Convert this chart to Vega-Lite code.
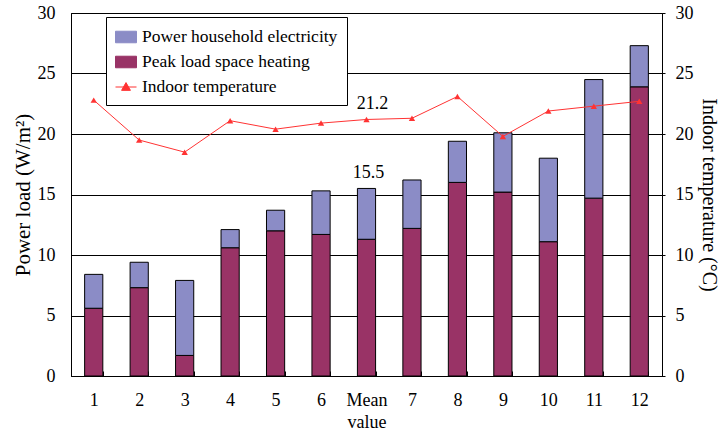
{
  "$schema": "https://vega.github.io/schema/vega-lite/v6.json",
  "width": 591,
  "height": 363,
  "autosize": "none",
  "padding": {"left": 71, "top": 13, "right": 65, "bottom": 59},
  "background": "white",
  "config": {
    "font": "Liberation Serif",
    "view": {"stroke": "black", "strokeWidth": 1},
    "axis": {
      "labelFont": "Liberation Serif",
      "titleFont": "Liberation Serif",
      "labelFontSize": 18,
      "titleFontSize": 20,
      "titleFontWeight": "normal",
      "labelColor": "black",
      "titleColor": "black",
      "domainColor": "black",
      "tickColor": "black",
      "gridColor": "black",
      "gridOpacity": 1
    },
    "legend": {
      "labelFont": "Liberation Serif",
      "labelFontSize": 17.5,
      "labelColor": "black",
      "labelLimit": 400
    }
  },
  "datasets": {
    "bars": [
      {"cat": "1", "series": "Peak load space heating", "value": 5.6},
      {"cat": "1", "series": "Power household electricity", "value": 2.8},
      {"cat": "2", "series": "Peak load space heating", "value": 7.3},
      {"cat": "2", "series": "Power household electricity", "value": 2.1},
      {"cat": "3", "series": "Peak load space heating", "value": 1.7},
      {"cat": "3", "series": "Power household electricity", "value": 6.2},
      {"cat": "4", "series": "Peak load space heating", "value": 10.6},
      {"cat": "4", "series": "Power household electricity", "value": 1.5},
      {"cat": "5", "series": "Peak load space heating", "value": 12.0},
      {"cat": "5", "series": "Power household electricity", "value": 1.7},
      {"cat": "6", "series": "Peak load space heating", "value": 11.7},
      {"cat": "6", "series": "Power household electricity", "value": 3.6},
      {"cat": "Mean value", "series": "Peak load space heating", "value": 11.3},
      {"cat": "Mean value", "series": "Power household electricity", "value": 4.2},
      {"cat": "7", "series": "Peak load space heating", "value": 12.2},
      {"cat": "7", "series": "Power household electricity", "value": 4.0},
      {"cat": "8", "series": "Peak load space heating", "value": 16.0},
      {"cat": "8", "series": "Power household electricity", "value": 3.4},
      {"cat": "9", "series": "Peak load space heating", "value": 15.2},
      {"cat": "9", "series": "Power household electricity", "value": 4.9},
      {"cat": "10", "series": "Peak load space heating", "value": 11.1},
      {"cat": "10", "series": "Power household electricity", "value": 6.9},
      {"cat": "11", "series": "Peak load space heating", "value": 14.7},
      {"cat": "11", "series": "Power household electricity", "value": 9.8},
      {"cat": "12", "series": "Peak load space heating", "value": 23.9},
      {"cat": "12", "series": "Power household electricity", "value": 3.4}
    ],
    "temp": [
      {"cat": "1", "temp": 22.8},
      {"cat": "2", "temp": 19.5},
      {"cat": "3", "temp": 18.5},
      {"cat": "4", "temp": 21.1},
      {"cat": "5", "temp": 20.4},
      {"cat": "6", "temp": 20.9},
      {"cat": "Mean value", "temp": 21.2},
      {"cat": "7", "temp": 21.3},
      {"cat": "8", "temp": 23.1},
      {"cat": "9", "temp": 19.8},
      {"cat": "10", "temp": 21.9},
      {"cat": "11", "temp": 22.3},
      {"cat": "12", "temp": 22.7}
    ]
  },
  "encoding": {
    "x": {
      "field": "cat",
      "type": "nominal",
      "scale": {
        "domain": ["1", "2", "3", "4", "5", "6", "Mean value", "7", "8", "9", "10", "11", "12"],
        "paddingInner": 0.6,
        "paddingOuter": 0.3
      },
      "axis": {
        "title": null,
        "labelAngle": 0,
        "labelExpr": "datum.value === 'Mean value' ? ['Mean', 'value'] : datum.value",
        "labelLineHeight": 22,
        "tickBand": "extent",
        "tickSize": -5,
        "labelPadding": 20,
        "domainColor": "black"
      }
    }
  },
  "layer": [
    {
      "data": {"name": "bars"},
      "mark": {"type": "bar", "stroke": "black", "strokeWidth": 1},
      "encoding": {
        "y": {
          "field": "value",
          "type": "quantitative",
          "stack": "zero",
          "scale": {"domain": [0, 30], "nice": false},
          "axis": {
            "title": "Power load (W/m²)",
            "titleFontSize": 21,
            "values": [0, 5, 10, 15, 20, 25, 30],
            "grid": true,
            "ticks": false,
            "labelPadding": 16,
            "titlePadding": 4
          }
        },
        "color": {
          "field": "series",
          "type": "nominal",
          "scale": {
            "domain": ["Power household electricity", "Peak load space heating", "Indoor temperature"],
            "range": ["#8b8cc6", "#993366", "#ff3333"]
          },
          "legend": {
            "title": null,
            "orient": "none",
            "legendX": 35,
            "legendY": 4,
            "strokeColor": "black",
            "fillColor": "white",
            "padding": 9,
            "symbolSize": 441,
            "labelOffset": 5,
            "rowPadding": 5,
            "labelLimit": 400,
            "encode": {
              "symbols": {
                "update": {
                  "shape": {"signal": "datum.value === 'Indoor temperature' ? 'M-1,0H1M0,-0.42L0.42,0.32L-0.42,0.32Z' : 'M-1,-0.55H1V0.55H-1Z'"},
                  "fill": {"signal": "datum.value === 'Indoor temperature' ? '#ff3333' : (datum.value === 'Peak load space heating' ? '#993366' : '#8b8cc6')"},
                  "stroke": {"signal": "datum.value === 'Indoor temperature' ? '#ff3333' : 'black'"},
                  "strokeWidth": {"value": 1},
                  "opacity": {"value": 1},
                  "fillOpacity": {"value": 1}
                }
              }
            }
          }
        },
        "order": {"field": "series", "sort": "ascending"}
      }
    },
    {
      "data": {"name": "bars"},
      "transform": [
        {"filter": "datum.cat === 'Mean value'"},
        {"aggregate": [{"op": "sum", "field": "value", "as": "total"}], "groupby": ["cat"]}
      ],
      "mark": {"type": "text", "fontSize": 18, "dy": -10, "dx": 2, "baseline": "alphabetic", "color": "black"},
      "encoding": {
        "y": {"field": "total", "type": "quantitative", "scale": {"domain": [0, 30], "nice": false}, "axis": null},
        "text": {"field": "total", "type": "quantitative", "format": ".1f"}
      }
    },
    {
      "data": {"name": "temp"},
      "mark": {"type": "line", "strokeWidth": 1, "point": {"shape": "triangle-up", "filled": true, "size": 40}},
      "encoding": {
        "y": {
          "field": "temp",
          "type": "quantitative",
          "scale": {"domain": [0, 30], "nice": false},
          "axis": {
            "orient": "right",
            "title": "Indoor temperature (°C)",
            "values": [0, 5, 10, 15, 20, 25, 30],
            "grid": false,
            "tickSize": 3,
            "labelPadding": 10,
            "titlePadding": 5
          }
        },
        "color": {
          "datum": "Indoor temperature",
          "type": "nominal",
          "legend": {
            "title": null,
            "orient": "none",
            "legendX": 35,
            "legendY": 4,
            "strokeColor": "black",
            "fillColor": "white",
            "padding": 9,
            "symbolSize": 441,
            "labelOffset": 5,
            "rowPadding": 5,
            "labelLimit": 400,
            "encode": {
              "symbols": {
                "update": {
                  "shape": {"signal": "datum.value === 'Indoor temperature' ? 'M-1,0H1M0,-0.42L0.42,0.32L-0.42,0.32Z' : 'M-1,-0.55H1V0.55H-1Z'"},
                  "fill": {"signal": "datum.value === 'Indoor temperature' ? '#ff3333' : (datum.value === 'Peak load space heating' ? '#993366' : '#8b8cc6')"},
                  "stroke": {"signal": "datum.value === 'Indoor temperature' ? '#ff3333' : 'black'"},
                  "strokeWidth": {"value": 1},
                  "opacity": {"value": 1},
                  "fillOpacity": {"value": 1}
                }
              }
            }
          }
        }
      }
    },
    {
      "data": {"name": "temp"},
      "transform": [{"filter": "datum.cat === 'Mean value'"}],
      "mark": {"type": "text", "fontSize": 18, "dy": -10, "dx": 6, "baseline": "alphabetic", "color": "black"},
      "encoding": {
        "y": {"field": "temp", "type": "quantitative", "scale": {"domain": [0, 30], "nice": false}, "axis": null},
        "text": {"field": "temp", "type": "quantitative", "format": ".1f"}
      }
    }
  ],
  "resolve": {"scale": {"y": "independent"}}
}
